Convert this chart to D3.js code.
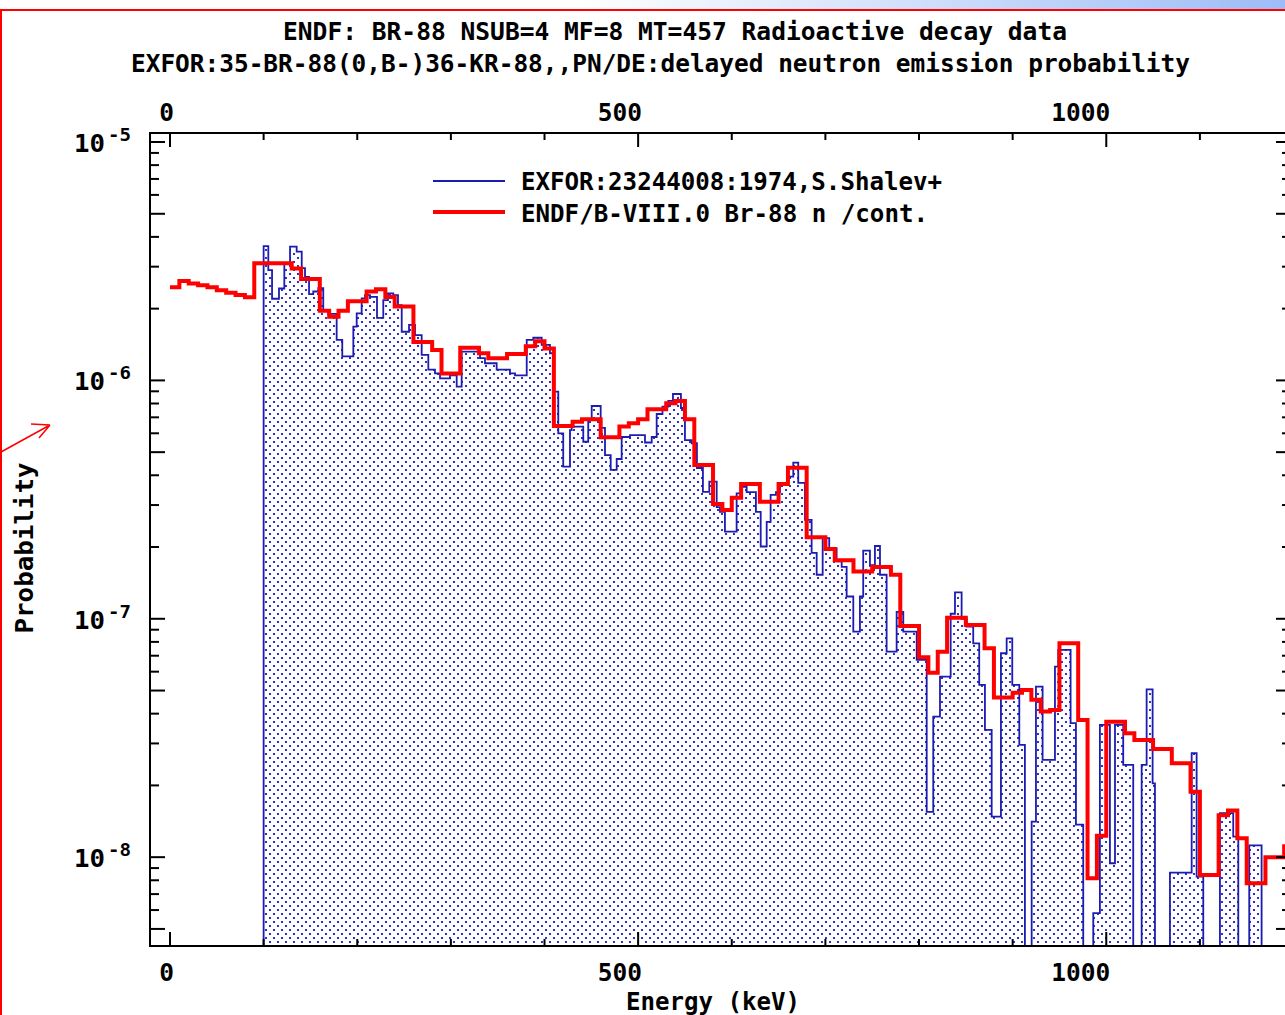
<!DOCTYPE html>
<html>
<head>
<meta charset="utf-8">
<script src="https://cdn.jsdelivr.net/npm/d3@7"></script>
<style>
  html, body { margin: 0; padding: 0; background: #fff; overflow: hidden; }
  svg { display: block; }
  text { font-family: "DejaVu Sans Mono", "Liberation Mono", monospace; font-weight: bold; fill: #000; }
</style>
</head>
<body>
<svg id="chart" width="1285" height="1015"></svg>
<script>
// ---- EXFOR 23244008 (S.Shalev, 1974): histogram bins, lower edge in keV, probability per bin
const exforE = [100,105,109,116.4,122.1,128.2,135.3,140.7,144.2,148.5,
  153,158.4,163.7,169.1,178,184,195.8,199.4,204.7,208.3,
  213.6,221.1,227.8,232.8,238.5,243.5,247.5,255.3,261.7,268.8,
  275.9,283,288.4,299,306.2,311.5,331.1,336.4,348.9,363.1,
  368.5,381,388,397,405.8,409.4,414.7,420,427.2,429,
  441.4,446.7,450.4,460,464.6,470.7,477.1,482.4,491.3,507.3,
  514.5,519.8,526,532.2,537.2,545.7,550,557.2,562.8,569.2,
  576,583.9,587.4,592.7,605.2,609.5,615.9,625.8,630.9,637.3,
  641.5,647.2,651.5,659.3,665.7,671,678.2,685.3,690.7,697.1,
  704.1,712,717.4,722.7,729.8,736.9,740.4,747.6,752.9,758.3,
  765.4,776.1,783.2,797.5,808.2,815.2,822.4,833.8,838.4,845.5,
  850.9,857.9,864.3,870.4,877.6,887.5,893.6,899.6,907.1,913.1,
  920.3,924.9,932,945.2,948.7,961.9,967.6,975.4,986.1,993.2,
  1003.9,1009.3,1018.1,1028.8,1037.8,1043.1,1049.5,1052,1068,1091.2,
  1096.5,1103.6,1121.4,1135.6,1141,1152.7,1165.9];
const exforP = [3.66e-6,2.90e-6,2.20e-6,2.43e-6,3.10e-6,3.64e-6,3.47e-6,2.96e-6,2.72e-6,2.30e-6,
  2.36e-6,2.44e-6,1.97e-6,1.90e-6,1.48e-6,1.26e-6,1.68e-6,1.91e-6,2.21e-6,2.28e-6,
  2.24e-6,1.83e-6,2.17e-6,2.32e-6,2.28e-6,2.07e-6,1.60e-6,1.71e-6,1.55e-6,1.28e-6,
  1.11e-6,1.07e-6,1.02e-6,1.05e-6,9.41e-7,1.32e-6,1.24e-6,1.18e-6,1.11e-6,1.07e-6,
  1.05e-6,1.48e-6,1.51e-6,1.41e-6,1.30e-6,8.97e-7,6.00e-7,4.35e-7,6.19e-7,6.40e-7,
  5.53e-7,6.82e-7,7.81e-7,6.32e-7,4.86e-7,4.21e-7,4.68e-7,5.79e-7,5.90e-7,5.49e-7,
  5.79e-7,7.23e-7,7.76e-7,8.20e-7,8.77e-7,7.66e-7,5.62e-7,5.45e-7,4.29e-7,3.41e-7,
  3.76e-7,2.94e-7,2.81e-7,2.32e-7,3.36e-7,3.58e-7,3.40e-7,2.81e-7,2.01e-7,2.55e-7,
  3.31e-7,3.40e-7,3.64e-7,3.95e-7,4.52e-7,3.72e-7,2.60e-7,1.89e-7,1.53e-7,2.18e-7,
  1.98e-7,1.74e-7,1.65e-7,1.24e-7,8.83e-8,1.24e-7,1.93e-7,1.68e-7,2.02e-7,1.53e-7,
  7.28e-8,1.07e-7,8.83e-8,6.72e-8,1.55e-8,3.89e-8,5.72e-8,1.05e-7,1.29e-7,1.00e-7,
  9.27e-8,7.89e-8,5.28e-8,3.42e-8,1.48e-8,7.17e-8,8.28e-8,5.28e-8,2.96e-8,0,
  1.41e-8,5.19e-8,2.56e-8,6.30e-8,7.40e-8,3.65e-8,1.37e-8,0,5.82e-9,3.59e-8,
  9.43e-9,3.59e-8,2.44e-8,0,2.44e-8,5.06e-8,2.04e-8,0,8.61e-9,2.73e-8,
  8.28e-9,0,1.53e-8,1.22e-8,0,1.12e-8,0];
const exforEnd = 1210;

// ---- ENDF/B-VIII.0 Br-88 delayed-neutron continuum: lower edge in keV, probability
const endfE = [0,10,20,30,40,50,60,70,80,90,130,140,160,170,180,190,210,220,230,240,
  260,280,290,310,330,340,360,380,390,400,410,430,440,460,480,490,500,510,530,540,
  550,560,580,590,600,610,630,650,660,680,700,710,730,750,770,780,800,810,820,830,
  850,870,880,900,910,920,930,940,950,970,980,990,1000,1020,1030,1050,1070,1090,1100,1120,
  1130,1140,1150,1170,1190];
const endfP = [2.46e-6,2.61e-6,2.55e-6,2.51e-6,2.46e-6,2.39e-6,2.33e-6,2.28e-6,2.23e-6,3.10e-6,
  2.95e-6,2.66e-6,1.96e-6,1.85e-6,1.96e-6,2.15e-6,2.36e-6,2.41e-6,2.24e-6,2.04e-6,
  1.45e-6,1.34e-6,1.07e-6,1.37e-6,1.30e-6,1.24e-6,1.29e-6,1.39e-6,1.46e-6,1.36e-6,
  6.44e-7,6.71e-7,6.87e-7,5.77e-7,6.40e-7,6.61e-7,6.87e-7,7.57e-7,8.02e-7,8.20e-7,
  6.87e-7,4.42e-7,3.03e-7,2.86e-7,3.22e-7,3.68e-7,3.10e-7,3.68e-7,4.30e-7,2.20e-7,
  1.96e-7,1.76e-7,1.58e-7,1.65e-7,1.53e-7,9.33e-8,6.90e-8,5.94e-8,7.28e-8,1.01e-7,
  9.42e-8,7.52e-8,4.67e-8,4.90e-8,5.03e-8,4.57e-8,4.08e-8,4.14e-8,7.89e-8,3.76e-8,
  8.15e-9,1.23e-8,3.70e-8,3.31e-8,3.10e-8,2.84e-8,2.48e-8,1.88e-8,8.42e-9,1.50e-8,
  1.57e-8,1.20e-8,7.77e-9,1.00e-8,1.11e-8];
const endfEnd = 1210;

// ---- axes
const xDomain = [-21.36, 1197.3];          // keV
const yDomain = [4.24e-9, 1.091e-5];       // probability
const xMinorTicks = [100,200,300,400,600,700,800,900,1100,1200];
const xMajorTicks = [0,500,1000];
const xTickLabels = ["0","500","1000"];
const yTickMantissas = [2,3,4,6,7,8,9];
const yLongMantissas = [1,5];
const yLabelExponents = [-5,-6,-7,-8];

// ---- texts
const titleLines = [
  "ENDF: BR-88 NSUB=4 MF=8 MT=457 Radioactive decay data",
  "EXFOR:35-BR-88(0,B-)36-KR-88,,PN/DE:delayed neutron emission probability"
];
const legendLabels = ["EXFOR:23244008:1974,S.Shalev+", "ENDF/B-VIII.0 Br-88 n /cont."];
const xAxisTitle = "Energy (keV)";
const yAxisTitle = "Probability";

// ================= drawing =================
const W = 1285, H = 1015;
const frame = { left: 150, top: 133, right: 1291, bottom: 946 };
const svg = d3.select("#chart");
const defs = svg.append("defs");

const x = d3.scaleLinear().domain(xDomain).range([frame.left, frame.right]);
const y = d3.scaleLog().domain(yDomain).range([frame.bottom, frame.top]);

// page decoration: gradient band, red border and pointer arrow
const band = defs.append("linearGradient").attr("id", "band").attr("x1", 0).attr("x2", 1).attr("y1", 0).attr("y2", 0);
band.append("stop").attr("offset", 0.45).attr("stop-color", "#ffffff");
band.append("stop").attr("offset", 1).attr("stop-color", "#9dbcf6");
svg.append("rect").attr("x", 0).attr("y", 0).attr("width", W).attr("height", 9).attr("fill", "url(#band)");
svg.append("line").attr("x1", 0).attr("x2", W).attr("y1", 10).attr("y2", 10).attr("stroke", "#ff0000").attr("stroke-width", 2);
svg.append("line").attr("x1", 1).attr("x2", 1).attr("y1", 10).attr("y2", H).attr("stroke", "#ff0000").attr("stroke-width", 2);
svg.append("path").attr("d", "M1,452 L50,425 M50,425 L31,424 M50,425 L39,438")
  .attr("fill", "none").attr("stroke", "#ff0000").attr("stroke-width", 1.5);

// dotted fill for the measured histogram
const pat = defs.append("pattern").attr("id", "dots").attr("patternUnits", "userSpaceOnUse")
  .attr("width", 8).attr("height", 8);
pat.append("rect").attr("x", 1).attr("y", 1).attr("width", 2).attr("height", 2).attr("fill", "#3030c8");
pat.append("rect").attr("x", 5).attr("y", 5).attr("width", 2).attr("height", 2).attr("fill", "#3030c8");

defs.append("clipPath").attr("id", "plotclip").append("rect")
  .attr("x", frame.left).attr("y", frame.top)
  .attr("width", frame.right - frame.left).attr("height", frame.bottom - frame.top);

// titles
svg.append("text").attr("x", 283).attr("y", 40).attr("font-size", 24.5)
  .attr("textLength", 784).attr("lengthAdjust", "spacingAndGlyphs").text(titleLines[0]);
svg.append("text").attr("x", 131).attr("y", 72).attr("font-size", 24.5)
  .attr("textLength", 1059).attr("lengthAdjust", "spacingAndGlyphs").text(titleLines[1]);

// data
const yv = p => (p > 0 ? y(p) : frame.bottom + 2);
const exforPts = exforE.map((e, i) => [e, exforP[i]]).concat([[exforEnd, exforP[exforP.length - 1]]]);
const endfPts = endfE.map((e, i) => [e, endfP[i]]).concat([[endfEnd, endfP[endfP.length - 1]]]);

const gData = svg.append("g").attr("clip-path", "url(#plotclip)");
gData.append("path")
  .attr("d", d3.area().curve(d3.curveStepAfter).x(d => x(d[0])).y0(frame.bottom).y1(d => yv(d[1]))(exforPts))
  .attr("fill", "url(#dots)");
gData.append("path")
  .attr("d", d3.line().curve(d3.curveStepAfter).x(d => x(d[0])).y(d => yv(d[1]))([[exforE[0], 0]].concat(exforPts)))
  .attr("fill", "none").attr("stroke", "#1c1cb0").attr("stroke-width", 1.8);
gData.append("path")
  .attr("d", d3.line().curve(d3.curveStepAfter).x(d => x(d[0])).y(d => y(d[1]))(endfPts))
  .attr("fill", "none").attr("stroke", "#ff0000").attr("stroke-width", 4).attr("stroke-linejoin", "miter");

// frame
svg.append("rect").attr("x", frame.left).attr("y", frame.top)
  .attr("width", frame.right - frame.left).attr("height", frame.bottom - frame.top)
  .attr("fill", "none").attr("stroke", "#000").attr("stroke-width", 2);

// ticks
const yShort = [], yLong = [];
for (let e = -9; e <= -5; e++) {
  for (let m = 1; m <= 9; m++) {
    const v = m * Math.pow(10, e);
    if (v < yDomain[0] || v > yDomain[1]) continue;
    if (yLongMantissas.includes(m)) yLong.push(v);
    else if (yTickMantissas.includes(m)) yShort.push(v);
  }
}
function tickGroup(axis, tx, ty) {
  const g = svg.append("g").attr("transform", `translate(${tx},${ty})`).call(axis);
  g.select(".domain").remove();
  g.selectAll(".tick text").remove();
  g.selectAll(".tick line").attr("stroke", "#000").attr("stroke-width", 2);
  return g;
}
tickGroup(d3.axisRight(y).tickValues(yShort).tickSize(9).offset(0), frame.left, 0);
tickGroup(d3.axisRight(y).tickValues(yLong).tickSize(15).offset(0), frame.left, 0);
tickGroup(d3.axisLeft(y).tickValues(yShort).tickSize(9).offset(0), frame.right, 0);
tickGroup(d3.axisLeft(y).tickValues(yLong).tickSize(15).offset(0), frame.right, 0);
tickGroup(d3.axisBottom(x).tickValues(xMinorTicks).tickSize(7).offset(0), 0, frame.top);
tickGroup(d3.axisBottom(x).tickValues(xMajorTicks).tickSize(14).offset(0), 0, frame.top);
tickGroup(d3.axisTop(x).tickValues(xMinorTicks).tickSize(7).offset(0), 0, frame.bottom);
tickGroup(d3.axisTop(x).tickValues(xMajorTicks).tickSize(14).offset(0), 0, frame.bottom);

// x tick labels (top and bottom), right-aligned next to their tick
xMajorTicks.forEach((v, i) => {
  [121, 981].forEach(by => {
    svg.append("text").attr("x", x(v) + 4).attr("y", by).attr("text-anchor", "end")
      .attr("font-size", 24.5).text(xTickLabels[i]);
  });
});

// y tick labels 10^n
yLabelExponents.forEach(e => {
  const yy = y(Math.pow(10, e));
  svg.append("text").attr("x", 105).attr("y", yy + 10).attr("text-anchor", "end")
    .attr("font-size", 25).attr("textLength", 31).attr("lengthAdjust", "spacingAndGlyphs").text("10");
  svg.append("text").attr("x", 108).attr("y", yy - 1).attr("font-size", 18)
    .attr("textLength", 23).attr("lengthAdjust", "spacingAndGlyphs").text(String(e));
});

// axis titles
svg.append("text").attr("x", 626).attr("y", 1010).attr("font-size", 24)
  .attr("textLength", 174).attr("lengthAdjust", "spacingAndGlyphs").text(xAxisTitle);
svg.append("text").attr("transform", "translate(33,548) rotate(-90)").attr("text-anchor", "middle")
  .attr("font-size", 24).attr("textLength", 171).attr("lengthAdjust", "spacingAndGlyphs").text(yAxisTitle);

// legend
svg.append("line").attr("x1", 433).attr("x2", 505).attr("y1", 181).attr("y2", 181)
  .attr("stroke", "#1c1cb0").attr("stroke-width", 2);
svg.append("line").attr("x1", 433).attr("x2", 505).attr("y1", 212).attr("y2", 212)
  .attr("stroke", "#ff0000").attr("stroke-width", 4);
svg.append("text").attr("x", 521).attr("y", 190).attr("font-size", 24)
  .attr("textLength", 421).attr("lengthAdjust", "spacingAndGlyphs").text(legendLabels[0]);
svg.append("text").attr("x", 521).attr("y", 222).attr("font-size", 24)
  .attr("textLength", 407).attr("lengthAdjust", "spacingAndGlyphs").text(legendLabels[1]);
</script>
</body>
</html>
